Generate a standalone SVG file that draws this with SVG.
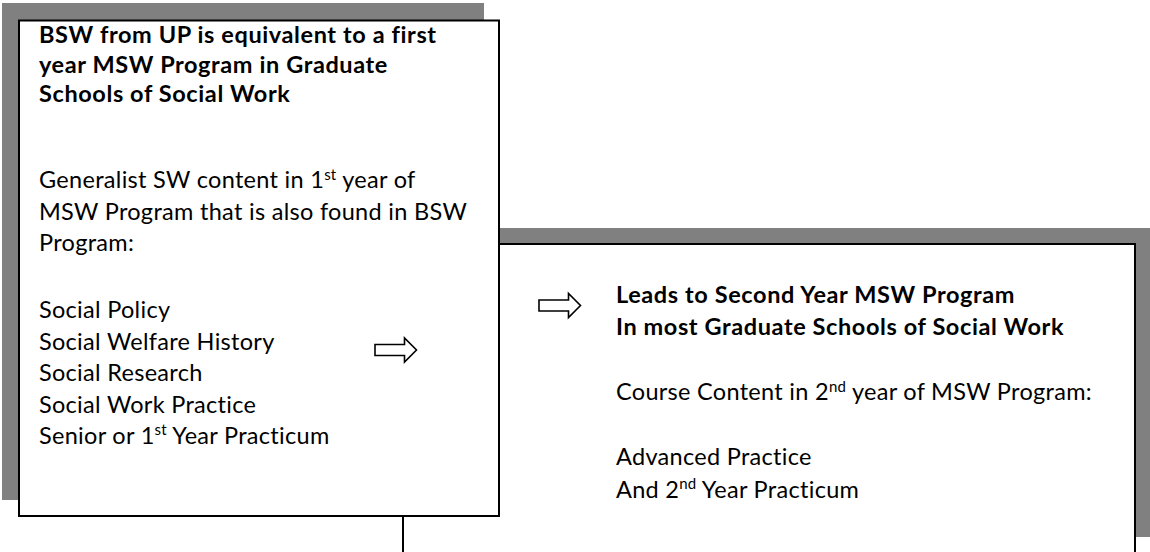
<svg xmlns="http://www.w3.org/2000/svg" xmlns:xlink="http://www.w3.org/1999/xlink" width="1150" height="552" viewBox="0 0 1150 552">
  <style>
    .shadow { fill: #808080; }
    .box { fill: #ffffff; stroke: #000000; stroke-width: 2; }
    .t { font-family: Lato, "Open Sans", "Liberation Sans", sans-serif; font-size: 23.5px; letter-spacing: 0.3px; fill: #000000; }
    .b { font-weight: 700; letter-spacing: 0.6px; }
    .sup { font-size: 15px; letter-spacing: 0.2px; }
    .arrow { fill: #ffffff; stroke: #000000; stroke-width: 1.6; stroke-linejoin: miter; }
  </style>
  <defs>
    <!-- hollow block arrow, origin at the tail, centred vertically -->
    <path id="blockArrow" d="M0,-5.5 H29.5 V-12 L41.5,0 L29.5,12 V5.5 H0 Z"/>
  </defs>
  <rect width="1150" height="552" fill="#ffffff"/>

  <!-- second-year box (drawn first, sits behind the first-year box) -->
  <g id="node-second-year">
    <rect class="shadow" x="418" y="228" width="732" height="309"/>
    <rect class="box" x="403" y="244" width="732" height="309"/>
    <text class="t b" x="616" y="303">Leads to Second Year MSW Program</text>
    <text class="t b" x="616" y="334.5">In most Graduate Schools of Social Work</text>
    <text class="t" x="616" y="400">Course Content in 2<tspan class="sup" dy="-8.5">nd</tspan><tspan dy="8.5"> year of MSW Program:</tspan></text>
    <text class="t" x="616" y="465">Advanced Practice</text>
    <text class="t" x="616" y="497.5">And 2<tspan class="sup" dy="-8.5">nd</tspan><tspan dy="8.5"> Year Practicum</tspan></text>
  </g>

  <!-- first-year box -->
  <g id="node-first-year">
    <rect class="shadow" x="2" y="3" width="482" height="497"/>
    <rect class="box" x="19" y="20.5" width="480" height="495.5"/>
    <text class="t b" x="39" y="43">BSW from UP is equivalent to a first</text>
    <text class="t b" x="39" y="72.5">year MSW Program in Graduate</text>
    <text class="t b" x="39" y="102">Schools of Social Work</text>
    <text class="t" x="39" y="188">Generalist SW content in 1<tspan class="sup" dy="-8.5">st</tspan><tspan dy="8.5"> year of</tspan></text>
    <text class="t" x="39" y="219.5">MSW Program that is also found in BSW</text>
    <text class="t" x="39" y="251">Program:</text>
    <text class="t" x="39" y="318">Social Policy</text>
    <text class="t" x="39" y="349.5">Social Welfare History</text>
    <text class="t" x="39" y="381">Social Research</text>
    <text class="t" x="39" y="412.5">Social Work Practice</text>
    <text class="t" x="39" y="443.5">Senior or 1<tspan class="sup" dy="-8.5">st</tspan><tspan dy="8.5"> Year Practicum</tspan></text>
  </g>

  <!-- flow arrows -->
  <g id="connectors">
    <use xlink:href="#blockArrow" class="arrow" transform="translate(375,350)"/>
    <use xlink:href="#blockArrow" class="arrow" transform="translate(539,305.5)"/>
  </g>
</svg>
